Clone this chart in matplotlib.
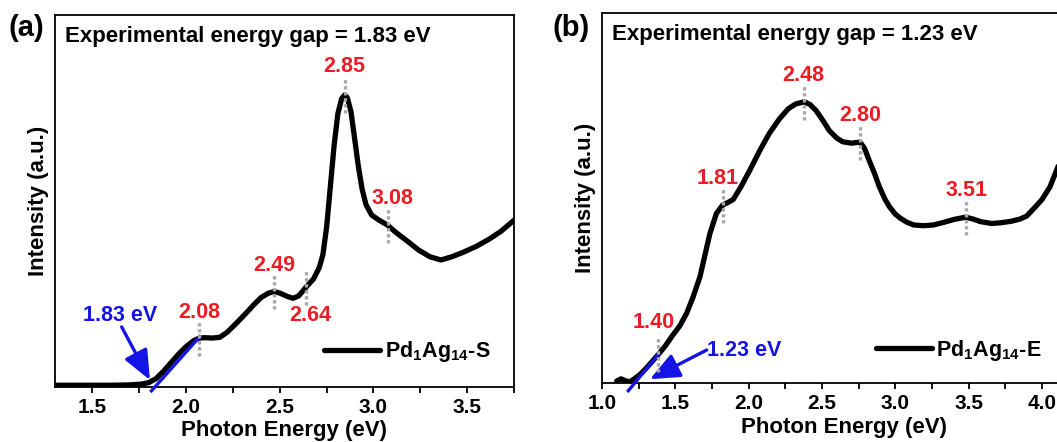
import matplotlib
matplotlib.use("Agg")
import matplotlib.pyplot as plt
from matplotlib.ticker import MultipleLocator

plt.rcParams.update({
    "font.family": ["Liberation Sans", "DejaVu Sans"],
    "font.weight": "bold",
    "mathtext.fontset": "custom",
    "mathtext.rm": "Liberation Sans:bold",
    "mathtext.it": "Liberation Sans:bold",
    "mathtext.bf": "Liberation Sans:bold",
    "axes.linewidth": 1.3,
})

# --- panel (a): Pd1Ag14-S absorption (intensity as fraction of axis height)
a_energy = [1.30, 1.40, 1.50, 1.60, 1.70, 1.76, 1.80, 1.84, 1.88, 1.92, 1.96, 2.00,
            2.04, 2.07, 2.10, 2.14, 2.18, 2.22, 2.27, 2.32, 2.36, 2.40, 2.44, 2.47,
            2.50, 2.54, 2.57, 2.60, 2.64, 2.68, 2.71, 2.73, 2.75, 2.77, 2.79, 2.81,
            2.83, 2.846, 2.86, 2.88, 2.90, 2.92, 2.94, 2.96, 2.99, 3.03, 3.075, 3.12,
            3.18, 3.24, 3.30, 3.36, 3.42, 3.48, 3.55, 3.62, 3.68, 3.75]
a_intensity = [0.004, 0.004, 0.004, 0.004, 0.005, 0.007, 0.011, 0.022, 0.042, 0.065, 0.088, 0.108,
               0.124, 0.131, 0.132, 0.131, 0.133, 0.147, 0.172, 0.198, 0.220, 0.240, 0.252, 0.256,
               0.252, 0.243, 0.238, 0.244, 0.268, 0.290, 0.320, 0.355, 0.430, 0.540, 0.650, 0.735,
               0.775, 0.785, 0.778, 0.740, 0.665, 0.590, 0.530, 0.490, 0.462, 0.448, 0.435, 0.415,
               0.392, 0.368, 0.350, 0.341, 0.350, 0.362, 0.378, 0.398, 0.418, 0.448]
a_peak_x = [2.069, 2.469, 2.64, 2.846, 3.075]
a_peak_y = [0.131, 0.256, 0.268, 0.785, 0.435]
a_peak_labels = ["2.08", "2.49", "2.64", "2.85", "3.08"]
a_label_x = [2.069, 2.469, 2.66, 2.846, 3.10]
a_label_y = [0.200, 0.327, 0.193, 0.861, 0.507]
a_fit_x = [1.815, 2.073]
a_fit_y = [-0.011, 0.135]
a_gap = "1.83"

# --- panel (b): Pd1Ag14-E absorption
b_energy = [1.10, 1.13, 1.16, 1.19, 1.22, 1.26, 1.30, 1.34, 1.384, 1.43, 1.475, 1.53,
            1.577, 1.62, 1.668, 1.70, 1.736, 1.78, 1.823, 1.86, 1.895, 1.95, 2.009, 2.077,
            2.14, 2.21, 2.27, 2.32, 2.38, 2.42, 2.46, 2.51, 2.55, 2.60, 2.64, 2.70,
            2.759, 2.79, 2.82, 2.86, 2.89, 2.93, 2.96, 3.00, 3.035, 3.08, 3.125, 3.19,
            3.26, 3.33, 3.40, 3.479, 3.53, 3.58, 3.656, 3.72, 3.79, 3.85, 3.895, 3.95,
            4.00, 4.054, 4.10, 4.15]
b_intensity = [0.006, 0.012, 0.007, 0.004, 0.012, 0.024, 0.040, 0.058, 0.078, 0.100, 0.126, 0.155,
               0.189, 0.232, 0.288, 0.343, 0.405, 0.459, 0.482, 0.489, 0.497, 0.533, 0.577, 0.630,
               0.675, 0.715, 0.742, 0.755, 0.761, 0.753, 0.737, 0.708, 0.683, 0.663, 0.653, 0.649,
               0.652, 0.635, 0.604, 0.565, 0.532, 0.497, 0.477, 0.457, 0.446, 0.435, 0.428, 0.426,
               0.428, 0.435, 0.443, 0.449, 0.444, 0.437, 0.432, 0.434, 0.438, 0.444, 0.452, 0.475,
               0.497, 0.531, 0.577, 0.630]
b_peak_x = [1.384, 1.823, 2.38, 2.759, 3.479]
b_peak_y = [0.078, 0.482, 0.761, 0.652, 0.449]
b_peak_labels = ["1.40", "1.81", "2.48", "2.80", "3.51"]
b_label_x = [1.35, 1.786, 2.375, 2.76, 3.485]
b_label_y = [0.164, 0.554, 0.833, 0.725, 0.520]
b_fit_x = [1.18, 1.384]
b_fit_y = [-0.020, 0.078]
b_gap = "1.23"

RED = "#ea1c24"
BLUE = "#1414e6"
GREY = "#a8a8a8"
ARROW = "-|>,head_length=0.75,head_width=0.32"

fig = plt.figure(figsize=(10.57, 4.42), dpi=100)
ax_a = fig.add_axes([0.052, 0.125, 0.4343, 0.841])
ax_b = fig.add_axes([0.5695, 0.1328, 0.458, 0.837])


def draw_panel(ax, energy, intensity, peak_x, peak_y, labels, lab_x, lab_y,
               fit_x, fit_y, gap, name):
    ax.plot(energy, intensity, color="black", lw=3.8, solid_joinstyle="round",
            solid_capstyle="round", zorder=2, label=name)
    ax.plot(fit_x, fit_y, color=BLUE, lw=2.4, zorder=3, clip_on=False)
    for px, py in zip(peak_x, peak_y):
        ax.plot([px, px], [py - 0.048, py + 0.048], color=GREY, lw=2.4,
                linestyle=(0, (1, 0.8)), zorder=4)
    for txt, tx, ty in zip(labels, lab_x, lab_y):
        ax.text(tx, ty, txt, color=RED, fontsize=15.5, fontweight="bold",
                ha="center", va="center")
    ax.annotate(f"Experimental energy gap = {gap} eV", xy=(0, 1), xycoords="axes fraction",
                xytext=(7, -15.5), textcoords="offset points", ha="left", va="center",
                fontsize=16, fontweight="bold")
    ax.set_ylim(0, 1)
    ax.set_yticks([])
    ax.set_ylabel("Intensity (a.u.)", fontsize=16, fontweight="bold", labelpad=4)
    ax.set_xlabel("Photon Energy (eV)", fontsize=16, fontweight="bold", labelpad=2.5)
    ax.xaxis.set_major_locator(MultipleLocator(0.5))
    ax.xaxis.set_minor_locator(MultipleLocator(0.25))
    ax.tick_params(axis="x", which="both", direction="out", length=4, width=1.3,
                   labelsize=15, pad=4, top=False)
    for lab in ax.get_xticklabels():
        lab.set_fontweight("bold")


draw_panel(ax_a, a_energy, a_intensity, a_peak_x, a_peak_y, a_peak_labels,
           a_label_x, a_label_y, a_fit_x, a_fit_y, a_gap, "Pd$_1$Ag$_{14}$-S")
ax_a.set_xlim(1.3, 3.75)
ax_a.annotate("", xy=(1.807, 0.018), xytext=(1.656, 0.161),
              arrowprops=dict(arrowstyle=ARROW, color=BLUE, lw=2.4, mutation_scale=24,
                              shrinkA=0, shrinkB=0))
ax_a.text(1.646, 0.193, "1.83 eV", color=BLUE, fontsize=15.5, fontweight="bold",
          ha="center", va="center")
ax_a.legend(loc="center right", bbox_to_anchor=(0.948, 0.094), frameon=False,
            borderpad=0, borderaxespad=0, handlelength=2.6, handletextpad=0.2,
            prop={"size": 15.5, "weight": "bold"})

draw_panel(ax_b, b_energy, b_intensity, b_peak_x, b_peak_y, b_peak_labels,
           b_label_x, b_label_y, b_fit_x, b_fit_y, b_gap, "Pd$_1$Ag$_{14}$-E")
ax_b.set_xlim(1.0, 4.3)
ax_b.annotate("", xy=(1.327, 0.011), xytext=(1.714, 0.09),
              arrowprops=dict(arrowstyle=ARROW, color=BLUE, lw=2.4, mutation_scale=24,
                              shrinkA=0, shrinkB=0))
ax_b.text(1.714, 0.09, "1.23 eV", color=BLUE, fontsize=15.5, fontweight="bold",
          ha="left", va="center")
ax_b.legend(loc="center right", bbox_to_anchor=(0.908, 0.09), frameon=False,
            borderpad=0, borderaxespad=0, handlelength=2.6, handletextpad=0.2,
            prop={"size": 15.5, "weight": "bold"})

fig.text(0.008, 0.937, "(a)", fontsize=21, fontweight="bold", ha="left", va="center")
fig.text(0.523, 0.937, "(b)", fontsize=21, fontweight="bold", ha="left", va="center")

fig.savefig("out.png", dpi=100)
